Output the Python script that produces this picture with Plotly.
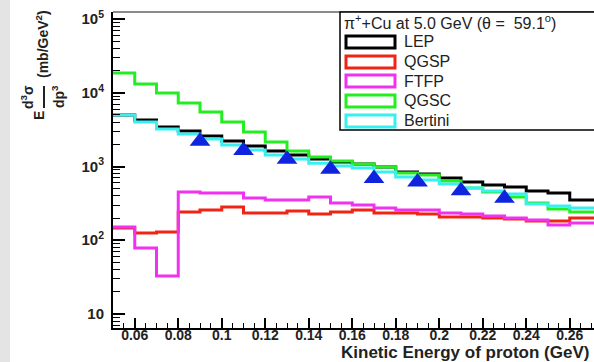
import plotly.graph_objects as go

# ---- data ----
bin_edges = [0.05, 0.06, 0.07, 0.08, 0.09, 0.10, 0.11, 0.12, 0.13, 0.14, 0.15, 0.16,
             0.17, 0.18, 0.19, 0.20, 0.21, 0.22, 0.23, 0.24, 0.25, 0.26, 0.27, 0.28]
lep = [4990, 4270, 3430, 3030, 2590, 2220, 1900, 1620, 1430, 1260, 1150, 1080,
       985, 842, 791, 698, 617, 561, 527, 465, 437, 351, 351]
qgsp = [147, 125, 129, 242, 257, 282, 234, 234, 249, 227, 242, 257,
        234, 234, 227, 207, 207, 200, 194, 182, 182, 200, 200]
ftfp = [151, 78.5, 32.7, 451, 437, 437, 374, 351, 351, 386, 320, 301,
        274, 257, 257, 234, 227, 213, 200, 188, 161, 171, 171]
qgsc = [18500, 13150, 9930, 7260, 5480, 4010, 2940, 2150, 1620, 1350, 1190, 1080,
        985, 816, 767, 636, 511, 451, 386, 320, 265, 242, 242]
bertini = [4990, 4010, 3220, 2760, 2360, 1960, 1670, 1430, 1260, 1110, 1015, 955,
           842, 721, 656, 579, 511, 465, 424, 310, 291, 274, 274]
data_x = [0.09, 0.11, 0.13, 0.15, 0.17, 0.19, 0.21, 0.23]
data_y = [2200, 1650, 1250, 915, 690, 617, 470, 370]

series_names = ["LEP", "QGSP", "FTFP", "QGSC", "Bertini"]
series_vals = [lep, qgsp, ftfp, qgsc, bertini]
series_cols = ["#000000", "#f02414", "#f032f0", "#22ee22", "#38f0f0"]

y_tickvals = [10, 100, 1000, 10000, 100000]
y_ticktext = ["10", "10<sup>2</sup>", "10<sup>3</sup>", "10<sup>4</sup>", "10<sup>5</sup>"]
x_tickvals = [0.06, 0.08, 0.10, 0.12, 0.14, 0.16, 0.18, 0.20, 0.22, 0.24, 0.26]
x_ticktext = ["0.06", "0.08", "0.1", "0.12", "0.14", "0.16", "0.18", "0.2", "0.22", "0.24", "0.26"]

FONT = "Liberation Sans, Arial, sans-serif"

# ---- geometry helpers (pixel -> paper) ----
W, H = 594, 362
L, R, T, B = 113, 0, 12, 34
PW, PH = W - L - R, H - T - B

def px(x):
    return (x - L) / PW

def py(y):
    return (H - B - y) / PH

fig = go.Figure()

for name, vals, col in zip(series_names, series_vals, series_cols):
    fig.add_trace(go.Scatter(
        x=bin_edges, y=vals + [vals[-1]], mode="lines", line_shape="hv",
        line=dict(color=col, width=3), name=name, showlegend=False))

fig.add_trace(go.Scatter(
    x=data_x, y=data_y, mode="markers",
    marker=dict(symbol="triangle-up", size=18, color="#1024e0", line=dict(width=0)),
    showlegend=False, name="data"))

minor_vals = [m * 10 ** e for e in range(0, 5) for m in range(2, 10)]

fig.update_xaxes(
    range=[0.05, 0.05 + PW / 2175], showgrid=False, zeroline=False,
    showline=True, linecolor="#000", linewidth=2,
    ticks="inside", ticklen=10, tickwidth=1.5, tickcolor="#000",
    tickvals=x_tickvals, ticktext=x_ticktext, ticklabelstandoff=-7,
    tickfont=dict(family=FONT, size=14, color="#222", weight="bold"),
    minor=dict(ticks="inside", ticklen=5, dtick=0.005, tick0=0.05, tickcolor="#000", tickwidth=1.2),
)
fig.update_yaxes(
    type="log", range=[0.81, 5.095], showgrid=False, zeroline=False,
    showline=True, linecolor="#000", linewidth=2,
    ticks="inside", ticklen=12, tickwidth=1.5, tickcolor="#000",
    tickvals=y_tickvals, ticktext=y_ticktext, ticklabelstandoff=4,
    tickfont=dict(family=FONT, size=15, color="#222", weight="bold"),
    minor=dict(ticks="inside", ticklen=7, tickvals=minor_vals, tickcolor="#000", tickwidth=1.2),
)

shapes = []
# gray strip at far left
shapes.append(dict(type="rect", xref="paper", yref="paper", x0=px(0), x1=px(10),
                   y0=py(H), y1=py(0), fillcolor="#e4e4e4", line=dict(width=0), layer="below"))
# top frame line
shapes.append(dict(type="line", xref="paper", yref="paper", x0=0, x1=1, y0=1, y1=1,
                   line=dict(color="#8a8a8a", width=2)))
# legend box
shapes.append(dict(type="rect", xref="paper", yref="paper", x0=px(340), x1=px(610),
                   y0=py(130), y1=py(12), fillcolor="white", line=dict(color="#000", width=1.5)))

annotations = []
annotations.append(dict(xref="paper", yref="paper", x=px(342), y=py(22), xanchor="left", yanchor="middle",
                        text="π<sup>+</sup>+Cu at 5.0 GeV (θ =  59.1<sup>o</sup>)", showarrow=False,
                        font=dict(family=FONT, size=16, color="#222")))
entry_y = [42, 62, 81, 101, 121]
for name, col, ey in zip(series_names, series_cols, entry_y):
    shapes.append(dict(type="rect", xref="paper", yref="paper", x0=px(346), x1=px(395),
                       y0=py(ey + 6), y1=py(ey - 6), line=dict(color=col, width=3)))
    annotations.append(dict(xref="paper", yref="paper", x=px(402), y=py(ey), xanchor="left",
                            yanchor="middle", text=name, showarrow=False,
                            font=dict(family=FONT, size=16, color="#222")))

# x axis title
annotations.append(dict(xref="paper", yref="paper", x=px(591), y=py(352), xanchor="right", yanchor="middle",
                        text="Kinetic Energy of proton (GeV)", showarrow=False,
                        font=dict(family=FONT, size=17, color="#222", weight="bold")))
# y axis title (emulating ROOT fraction)
ytf = dict(family=FONT, size=14, color="#222", weight="bold")
annotations.append(dict(xref="paper", yref="paper", x=px(39), y=py(116), xanchor="center", yanchor="middle",
                        text="E", textangle=-90, showarrow=False, font=ytf))
annotations.append(dict(xref="paper", yref="paper", x=px(27), y=py(97), xanchor="center", yanchor="middle",
                        text="d<sup>3</sup>σ", textangle=-90, showarrow=False, font=ytf))
annotations.append(dict(xref="paper", yref="paper", x=px(58), y=py(97), xanchor="center", yanchor="middle",
                        text="dp<sup>3</sup>", textangle=-90, showarrow=False, font=ytf))
shapes.append(dict(type="line", xref="paper", yref="paper", x0=px(44), x1=px(44), y0=py(86), y1=py(108),
                   line=dict(color="#222", width=2)))
annotations.append(dict(xref="paper", yref="paper", x=px(42), y=py(44), xanchor="center", yanchor="middle",
                        text="(mb/GeV<sup>2</sup>)", textangle=-90, showarrow=False, font=ytf))

fig.update_layout(
    width=W, height=H, margin=dict(l=L, r=R, t=T, b=B),
    paper_bgcolor="white", plot_bgcolor="white",
    showlegend=False, shapes=shapes, annotations=annotations,
    font=dict(family=FONT),
)

fig.write_html("out.html")
